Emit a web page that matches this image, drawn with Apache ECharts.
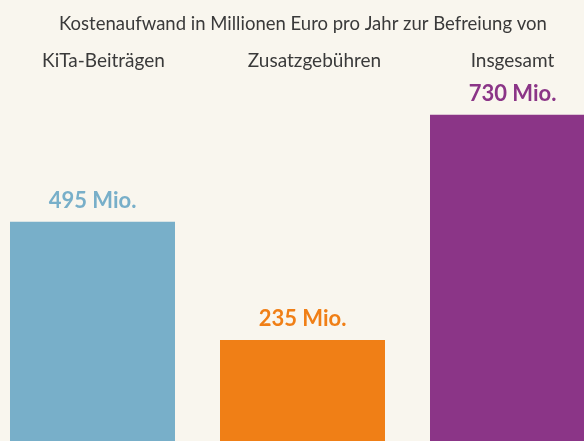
<!DOCTYPE html>
<html>
<head>
<meta charset="utf-8">
<style>
  html, body { margin: 0; padding: 0; background: #f9f6ee; }
  #chart { width: 584px; height: 441px; }
</style>
<script src="https://cdn.jsdelivr.net/npm/echarts@6/dist/echarts.min.js"></script>
</head>
<body>
<div id="chart"></div>
<script>
  const categories = ["KiTa-Beiträgen", "Zusatzgebühren", "Insgesamt"];
  const values = [495, 235, 730];
  const colors = ["#78afc9", "#f07f16", "#8b3587"];
  const labelShift = [22, 24, 0]; // Kategorie-Beschriftungen leicht nach rechts

  const chart = echarts.init(document.getElementById("chart"), null, { renderer: "canvas" });

  const option = {
    backgroundColor: "#f9f6ee",
    animation: false,
    textStyle: { fontFamily: "Lato" },
    title: {
      text: "Kostenaufwand in Millionen Euro pro Jahr zur Befreiung von",
      left: 54,
      top: 10,
      textStyle: { fontFamily: "Lato", fontSize: 18.5, fontWeight: "normal", color: "#3a3a3a" }
    },
    grid: { left: -12.5, width: 630, top: 83, height: 364, outerBoundsMode: "none", containLabel: false },
    xAxis: {
      type: "category",
      position: "top",
      data: categories.map((c, i) => ({
        value: c,
        textStyle: { padding: [0, 0, 0, labelShift[i]] }
      })),
      axisLine: { show: false },
      axisTick: { show: false },
      axisLabel: { interval: 0, margin: 13, fontFamily: "Lato", fontSize: 19, color: "#3a3a3a" }
    },
    yAxis: {
      type: "value",
      min: 0,
      max: 800,
      show: false,
      splitLine: { show: false }
    },
    series: [{
      type: "bar",
      barWidth: 165,
      data: values.map((v, i) => ({
        value: v,
        itemStyle: { color: colors[i] },
        label: { color: colors[i] }
      })),
      label: {
        show: true,
        position: "top",
        distance: 10,
        fontFamily: "Lato",
        fontWeight: "bold",
        fontSize: 22,
        formatter: (p) => p.value + " Mio."
      }
    }]
  };

  chart.setOption(option);
</script>
</body>
</html>
